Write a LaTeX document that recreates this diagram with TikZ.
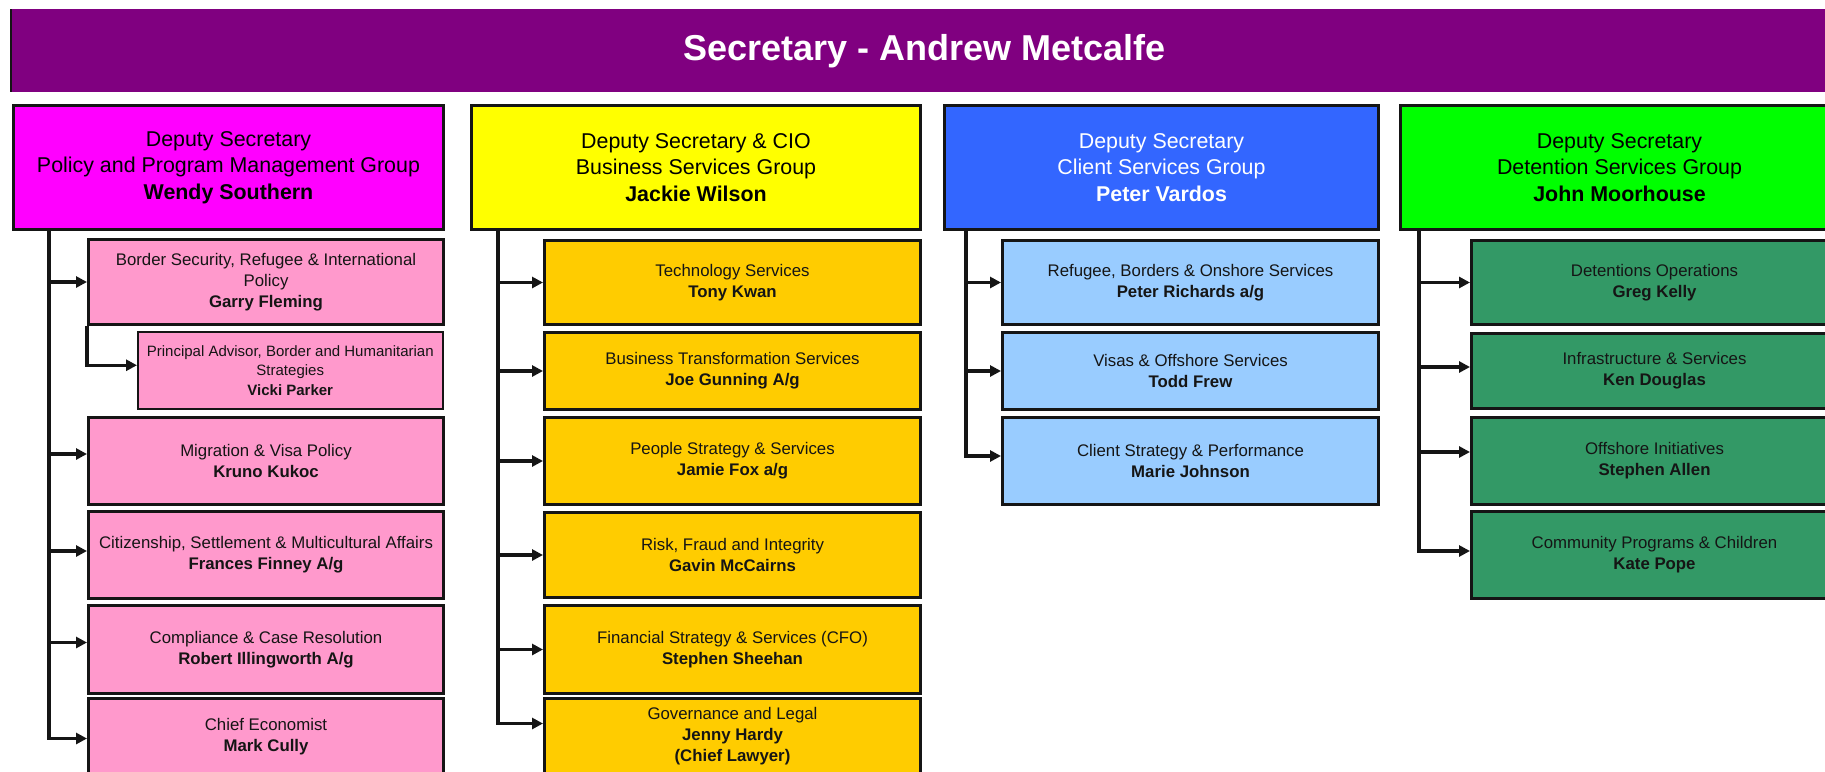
\documentclass[tikz,border=0pt]{standalone}
\usepackage{fontspec}
\setmainfont{Liberation Sans}
\usetikzlibrary{arrows.meta}
\definecolor{titlepurple}{HTML}{800080}
\definecolor{magentahead}{HTML}{FF00FF}
\definecolor{pinksub}{HTML}{FF99CC}
\definecolor{yellowhead}{HTML}{FFFF00}
\definecolor{goldsub}{HTML}{FFCC00}
\definecolor{bluehead}{HTML}{3366FF}
\definecolor{bluesub}{HTML}{99CCFF}
\definecolor{greenhead}{HTML}{00FF00}
\definecolor{greensub}{HTML}{339966}
\definecolor{edge}{HTML}{151515}
\tikzset{
  titlebar/.style={fill=titlepurple, anchor=north west, inner sep=0pt, text=white,
    font=\fontsize{36}{40}\selectfont\bfseries},
  headbox/.style={draw=edge, line width=3pt, anchor=north west, align=center, inner sep=2pt,
    font=\fontsize{21.4}{26.7}\selectfont},
  subbox/.style={draw=edge, line width=3pt, anchor=north west, align=center, inner sep=2pt,
    text=edge, font=\fontsize{16.8}{21}\selectfont},
  conn/.style={draw=edge, line width=3.2pt, -{Triangle[length=11pt,width=11pt]}},
  c1w/.style={minimum width=355pt},
  c2w/.style={minimum width=376pt},
  c3w/.style={minimum width=376pt},
  c4w/.style={minimum width=366pt}
}
\begin{document}
\begin{tikzpicture}[x=1pt,y=-1pt]
\useasboundingbox (0,0) rectangle (1825,771);
\fill[white] (0,0) rectangle (1825,771);

% title
\node[titlebar, minimum width=1826pt, minimum height=83pt] (sec) at (11,9) {Secretary - Andrew Metcalfe};
\draw[edge, line width=2.5pt] (sec.north west) -- (sec.south west);

% heads
\node[headbox, fill=magentahead, minimum width=430pt, minimum height=124pt] (c1h) at (12,104)
  {Deputy Secretary\\Policy and Program Management Group\\\textbf{Wendy Southern}};
\node[headbox, fill=yellowhead, minimum width=449pt, minimum height=124pt] (c2h) at (470,104)
  {Deputy Secretary \& CIO\\Business Services Group\\\textbf{Jackie Wilson}};
\node[headbox, fill=bluehead, text=white, minimum width=434pt, minimum height=124pt] (c3h) at (943,104)
  {Deputy Secretary\\Client Services Group\\\textbf{Peter Vardos}};
\node[headbox, fill=greenhead, minimum width=438pt, minimum height=124pt] (c4h) at (1399,104)
  {Deputy Secretary\\Detention Services Group\\\textbf{John Moorhouse}};

% column 1
\node[subbox, c1w, fill=pinksub, minimum height=85pt] (c1b1) at (87,238)
  {Border Security, Refugee \& International\\Policy\\\textbf{Garry Fleming}};
\node[subbox, fill=pinksub, line width=1.5pt, minimum width=305pt, minimum height=77pt,
  font=\fontsize{15}{19.5}\selectfont] (c1vp) at (137,331)
  {Principal Advisor, Border and Humanitarian\\Strategies\\\textbf{Vicki Parker}};
\node[subbox, c1w, fill=pinksub, minimum height=87pt] (c1b3) at (87,416)
  {Migration \& Visa Policy\\\textbf{Kruno Kukoc}};
\node[subbox, c1w, fill=pinksub, minimum height=87pt] (c1b4) at (87,510)
  {Citizenship, Settlement \& Multicultural Affairs\\\textbf{Frances Finney A/g}};
\node[subbox, c1w, fill=pinksub, minimum height=88pt] (c1b5) at (87,604)
  {Compliance \& Case Resolution\\\textbf{Robert Illingworth A/g}};
\node[subbox, c1w, fill=pinksub, minimum height=76pt] (c1b6) at (87,697)
  {Chief Economist\\\textbf{Mark Cully}};

% column 2
\node[subbox, c2w, fill=goldsub, minimum height=84pt] (c2b1) at (543,239)
  {Technology Services\\\textbf{Tony Kwan}};
\node[subbox, c2w, fill=goldsub, minimum height=77pt] (c2b2) at (543,331)
  {Business Transformation Services\\\textbf{Joe Gunning A/g}};
\node[subbox, c2w, fill=goldsub, minimum height=87pt] (c2b3) at (543,416)
  {People Strategy \& Services\\\textbf{Jamie Fox a/g}};
\node[subbox, c2w, fill=goldsub, minimum height=85pt] (c2b4) at (543,511)
  {Risk, Fraud and Integrity\\\textbf{Gavin McCairns}};
\node[subbox, c2w, fill=goldsub, minimum height=88pt] (c2b5) at (543,604)
  {Financial Strategy \& Services (CFO)\\\textbf{Stephen Sheehan}};
\node[subbox, c2w, fill=goldsub, minimum height=76pt] (c2b6) at (543,697)
  {Governance and Legal\\\textbf{Jenny Hardy}\\\textbf{(Chief Lawyer)}};

% column 3
\node[subbox, c3w, fill=bluesub, minimum height=84pt] (c3b1) at (1001,239)
  {Refugee, Borders \& Onshore Services\\\textbf{Peter Richards a/g}};
\node[subbox, c3w, fill=bluesub, minimum height=77pt] (c3b2) at (1001,331)
  {Visas \& Offshore Services\\\textbf{Todd Frew}};
\node[subbox, c3w, fill=bluesub, minimum height=87pt] (c3b3) at (1001,416)
  {Client Strategy \& Performance\\\textbf{Marie Johnson}};

% column 4
\node[subbox, c4w, fill=greensub, minimum height=84pt] (c4b1) at (1470,239)
  {Detentions Operations\\\textbf{Greg Kelly}};
\node[subbox, c4w, fill=greensub, minimum height=75pt] (c4b2) at (1470,332)
  {Infrastructure \& Services\\\textbf{Ken Douglas}};
\node[subbox, c4w, fill=greensub, minimum height=87pt] (c4b3) at (1470,416)
  {Offshore Initiatives\\\textbf{Stephen Allen}};
\node[subbox, c4w, fill=greensub, minimum height=87pt] (c4b4) at (1470,510)
  {Community Programs \& Children\\\textbf{Kate Pope}};

% connectors column 1
\draw[conn] ([xshift=37pt]c1h.south west) |- (c1b1.west);
\draw[conn] ([xshift=37pt]c1h.south west) |- ([yshift=7pt]c1b3.west);
\draw[conn] ([xshift=37pt]c1h.south west) |- ([yshift=4pt]c1b4.west);
\draw[conn] ([xshift=37pt]c1h.south west) |- ([yshift=7pt]c1b5.west);
\draw[conn] ([xshift=37pt]c1h.south west) |- ([yshift=-2pt]c1b6.west);
\draw[conn] (c1b1.south west) |- ([yshift=5pt]c1vp.west);

% connectors column 2
\draw[conn] ([xshift=28pt]c2h.south west) |- (c2b1.west);
\draw[conn] ([xshift=28pt]c2h.south west) |- (c2b2.west);
\draw[conn] ([xshift=28pt]c2h.south west) |- (c2b3.west);
\draw[conn] ([xshift=28pt]c2h.south west) |- (c2b4.west);
\draw[conn] ([xshift=28pt]c2h.south west) |- (c2b5.west);
\draw[conn] ([xshift=28pt]c2h.south west) |- ([yshift=13pt]c2b6.west);

% connectors column 3
\draw[conn] ([xshift=23pt]c3h.south west) |- (c3b1.west);
\draw[conn] ([xshift=23pt]c3h.south west) |- (c3b2.west);
\draw[conn] ([xshift=23pt]c3h.south west) |- ([yshift=5pt]c3b3.west);

% connectors column 4
\draw[conn] ([xshift=20pt]c4h.south west) |- (c4b1.west);
\draw[conn] ([xshift=20pt]c4h.south west) |- ([yshift=4pt]c4b2.west);
\draw[conn] ([xshift=20pt]c4h.south west) |- ([yshift=9pt]c4b3.west);
\draw[conn] ([xshift=20pt]c4h.south west) |- ([yshift=4pt]c4b4.west);
\end{tikzpicture}
\end{document}
